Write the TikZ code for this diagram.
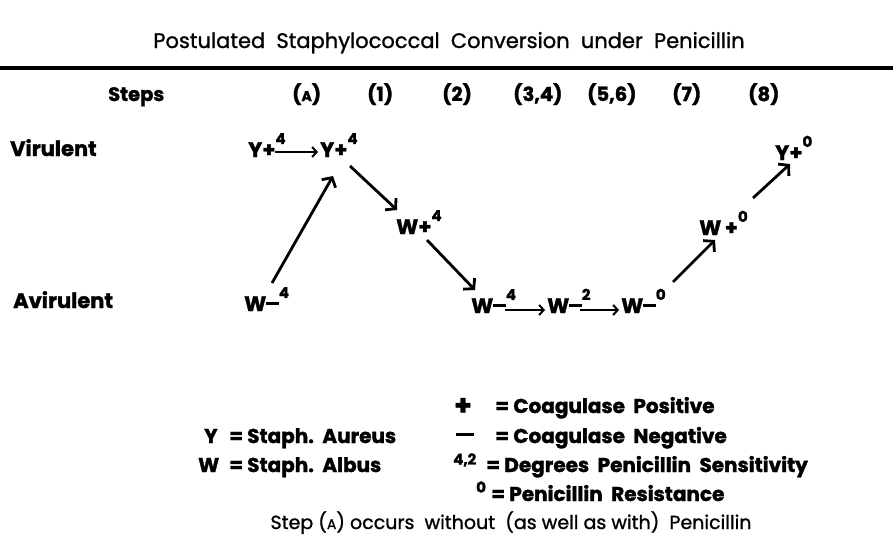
\documentclass[tikz,border=0pt]{standalone}
\usepackage{fontspec}
\setmainfont{Poppins}[BoldFeatures={FakeBold=1.6}]
\newfontfamily\medfont{Poppins}[FakeBold=1.1]
\usetikzlibrary{arrows.meta}
\newcommand\spr[1]{\raisebox{0.62em}{\fontsize{15}{15}\selectfont #1}}
\newcommand\mns{\rule[0.3em]{0.6em}{0.14em}}
\newcommand\sca{{\fontsize{14}{14}\selectfont A}}
\begin{document}
\begin{tikzpicture}[x=1pt,y=-1pt,
  txt/.style={anchor=base west,inner sep=0pt,font=\bfseries\fontsize{21}{21}\selectfont},
  hdr/.style={anchor=base west,inner sep=0pt,font=\bfseries\fontsize{19.5}{20}\selectfont},
  leg/.style={anchor=base west,inner sep=0pt,font=\bfseries\fontsize{20}{20}\selectfont},
  big/.style={line width=2.8pt,-{Straight Barb[length=7pt,width=16pt,line width=2.8pt]}},
  small/.style={line width=2pt,-{Straight Barb[length=4.5pt,width=10pt,line width=2pt]}}]
\useasboundingbox (0,0) rectangle (893,538);
% title
\node[anchor=base,inner sep=0pt,font=\medfont\fontsize{21}{21}\selectfont] (title) at (449,48)
  {Postulated\ \ Staphylococcal\ \ Conversion\ \ under\ \ Penicillin};
\coordinate (rl) at (0,68);
\coordinate (rr) at (893,68);
\draw[line width=3.8pt] (rl) -- (rr);
% header row
\node[hdr] (steps) at (108,101) {Steps};
\node[hdr] (sA) at (292,101) {(\sca)};
\node[hdr] (s1) at (367,101) {(1)};
\node[hdr] (s2) at (442,101) {(2)};
\node[hdr] (s34) at (513,101) {(3,4)};
\node[hdr] (s56) at (587,101) {(5,6)};
\node[hdr] (s7) at (672,101) {(7)};
\node[hdr] (s8) at (748,101) {(8)};
% row labels
\node[txt] (vir) at (10,156) {Virulent};
\node[txt] (avir) at (13,308) {Avirulent};
% species
\node[txt] (ya) at (248,157) {Y+\spr{4}};
\node[txt] (yb) at (320,157) {Y+\spr{4}};
\node[txt] (wa) at (244,311) {W\mns\spr{4}};
\node[txt] (wb) at (396,234) {W+\spr{4}};
\node[txt] (wc) at (471,313) {W\mns\spr{4}};
\node[txt] (wd) at (547,313) {W\mns\spr{2}};
\node[txt] (we) at (621,313) {W\mns\spr{0}};
\node[txt] (wf) at (699,235) {W\,+\spr{0}};
\node[txt] (yc) at (775,160) {Y+\spr{0}};
% connectors
\draw[small] ([shift={(-11pt,5pt)}]ya.base east) -- ([shift={(-2pt,5pt)}]yb.base west);
\draw[big] ([shift={(28pt,28pt)}]wa.base west) -- ([shift={(13pt,-19pt)}]yb.base west);
\draw[big] ([shift={(30pt,-9pt)}]yb.base west) -- ([shift={(1pt,24pt)}]wb.base west);
\draw[big] ([shift={(31pt,-6pt)}]wb.base west) -- ([shift={(4pt,23pt)}]wc.base west);
\draw[small] ([shift={(-11pt,3pt)}]wc.base east) -- ([shift={(-2pt,3pt)}]wd.base west);
\draw[small] ([shift={(-11pt,3pt)}]wd.base east) -- ([shift={(-2pt,3pt)}]we.base west);
\draw[big] ([shift={(52pt,31pt)}]we.base west) -- ([shift={(16pt,-5pt)}]wf.base west);
\draw[big] ([shift={(54pt,37pt)}]wf.base west) -- ([shift={(15pt,-4pt)}]yc.base west);
% legend
\node[leg,font=\bfseries\fontsize{28}{28}\selectfont] (lplus) at (454,415) {+};
\node[leg] (lpos) at (495,413) {= Coagulase\ \ Positive};
\node[leg] (lY) at (204,443) {Y};
\node[leg] (lYe) at (229,443) {=};
\node[leg] (lYt) at (247,443) {Staph.\ \ Aureus};
\node[leg] (lminus) at (456,443) {\rule[0.33em]{18pt}{3pt}};
\node[leg] (lneg) at (495,443) {= Coagulase\ \ Negative};
\node[leg] (lW) at (198,472) {W};
\node[leg] (lWe) at (229,472) {=};
\node[leg] (lWt) at (247,472) {Staph.\ \ Albus};
\node[leg] (l42) at (453,477) {\spr{4,2}};
\node[leg] (ldeg) at (486,472) {= Degrees\ \ Penicillin\ \ Sensitivity};
\node[leg] (l0) at (476,505) {\spr{0}};
\node[leg] (lres) at (491,501) {= Penicillin\ \ Resistance};
\node[anchor=base,inner sep=0pt,font=\medfont\fontsize{19}{19}\selectfont] (note) at (511,529)
  {Step (\sca) occurs\ \ without\ \ (as well as with)\ \ Penicillin};
\end{tikzpicture}
\end{document}
